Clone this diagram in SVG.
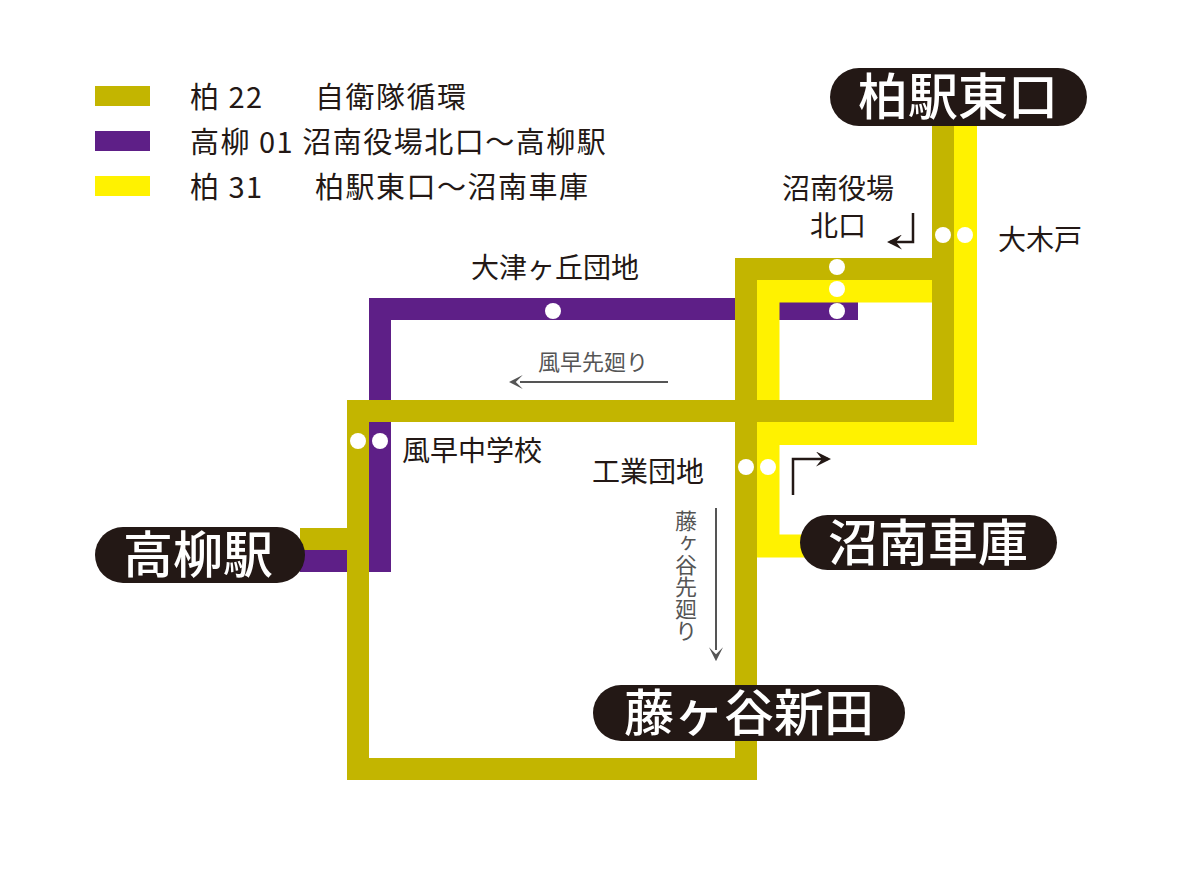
<svg xmlns="http://www.w3.org/2000/svg" width="1200" height="885" viewBox="0 0 1200 885">
<style>
.ol{fill:none;stroke:#c3b500;stroke-width:22}
.ye{fill:none;stroke:#fff200;stroke-width:23}
.pu{fill:none;stroke:#5e1f87;stroke-width:22}
.st{fill:#fff}
.t{font-family:"Noto Sans CJK JP","Noto Sans",sans-serif;fill:#231815}
.lg{font-size:29px;letter-spacing:1.5px}
.pill{fill:#231815}
.pt{font-family:"Noto Sans CJK JP",sans-serif;fill:#fff;font-weight:500;font-size:50px;text-anchor:middle}
.g{fill:#555;font-family:"Noto Sans CJK JP",sans-serif;font-size:22px}
.ar{fill:none;stroke:#555;stroke-width:2}
.bk{fill:none;stroke:#231815;stroke-width:2.5}
</style>
<defs>
<marker id="ag" viewBox="0 0 10 10" refX="2" refY="5" markerWidth="7" markerHeight="7" orient="auto"><path d="M10,0 L0,5 L10,10 L5,5 Z" fill="#555" transform="rotate(180 5 5)"/></marker>
<marker id="ab" viewBox="0 0 10 10" refX="8" refY="5" markerWidth="6" markerHeight="6" orient="auto"><path d="M0,0 L10,5 L0,10 L4,5 Z" fill="#231815"/></marker>
</defs>
<g id="legend">
<rect x="95" y="86" width="55" height="20" fill="#c3b500"/>
<rect x="95" y="131" width="55" height="20" fill="#5e1f87"/>
<rect x="95" y="176" width="55" height="20" fill="#fff200"/>
<text class="t lg" x="190" y="108">柏 22</text><text class="t lg" x="315" y="108">自衛隊循環</text>
<text class="t lg" x="190" y="153">高柳 01 沼南役場北口〜高柳駅</text>
<text class="t lg" x="190" y="198">柏 31</text><text class="t lg" x="315" y="198">柏駅東口〜沼南車庫</text>
</g>
<g id="connectors">
<path class="pu" d="M300,561 H380 V309 H735 M779,309 H858"/>
<path class="ye" d="M965.5,125 V433.5 H768 V546 H805 M768,434 V291 H932"/>
<path class="ol" d="M943,125 V411 H358 V769 H746 V269 H943 M300,539 H358"/>
<path class="ar" d="M668,382 H520" marker-end="url(#ag)"/>
<path class="ar" d="M716,508 V650" marker-end="url(#ag)"/>
<path class="bk" d="M913,213 V242 H890" marker-end="url(#ab)"/>
<path class="bk" d="M793,495 V459 H828" marker-end="url(#ab)"/>
</g>
<g id="stops">
<circle class="st" cx="553" cy="311" r="8"/>
<circle class="st" cx="837" cy="267" r="8"/><circle class="st" cx="837" cy="289" r="8"/><circle class="st" cx="837" cy="311" r="8"/>
<circle class="st" cx="943" cy="235" r="8"/><circle class="st" cx="965" cy="235" r="8"/>
<circle class="st" cx="358" cy="441" r="8"/><circle class="st" cx="380" cy="441" r="8"/>
<circle class="st" cx="746" cy="467" r="8"/><circle class="st" cx="768" cy="467" r="8"/>
</g>
<g id="labels">
<text class="t" x="555" y="278" font-size="28" text-anchor="middle">大津ヶ丘団地</text>
<text class="t" x="838" y="199" font-size="28" text-anchor="middle">沼南役場</text>
<text class="t" x="838" y="236" font-size="28" text-anchor="middle">北口</text>
<text class="t" x="998" y="250" font-size="28">大木戸</text>
<text class="t" x="402" y="461" font-size="28">風早中学校</text>
<text class="t" x="592" y="482" font-size="28">工業団地</text>
<text class="g" x="538" y="370">風早先廻り</text>
<text class="g" x="686" y="510" style="writing-mode:vertical-rl">藤ヶ谷先廻り</text>
</g>
<g id="n-kashiwa"><rect class="pill" x="830" y="68" width="257" height="58" rx="29"/><text class="pt" x="958" y="115">柏駅東口</text></g>
<g id="n-takayanagi"><rect class="pill" x="95" y="527" width="210" height="56" rx="28"/><text class="pt" x="198" y="573">高柳駅</text></g>
<g id="n-shonan"><rect class="pill" x="800" y="515" width="257" height="55" rx="27.5"/><text class="pt" x="928" y="561">沼南車庫</text></g>
<g id="n-fujigaya"><rect class="pill" x="593" y="685" width="312" height="56" rx="28"/><text class="pt" x="749" y="731">藤ヶ谷新田</text></g>
</svg>
